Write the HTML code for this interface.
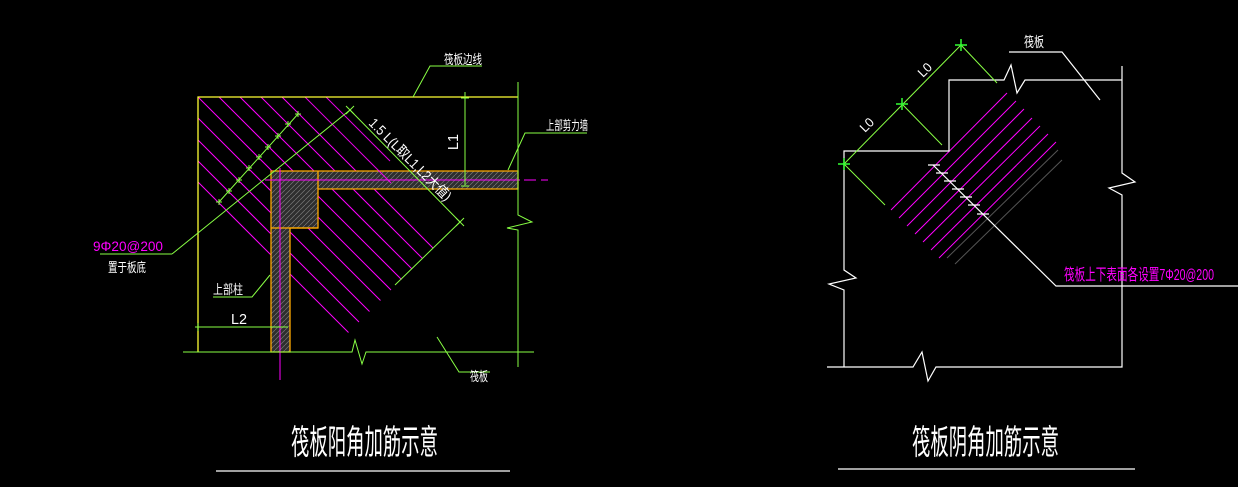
<!DOCTYPE html>
<html><head><meta charset="utf-8"><style>
html,body{margin:0;padding:0;background:#000;}
svg{display:block;}
text{font-family:"Liberation Sans","Noto Sans CJK SC",sans-serif;}
</style></head><body>
<svg width="1238" height="487" viewBox="0 0 1238 487" xmlns="http://www.w3.org/2000/svg">
<defs>
<pattern id="hat" width="5" height="5" patternUnits="userSpaceOnUse">
<rect width="5" height="5" fill="#2e2e2e"/>
<path d="M0 5L5 0" stroke="#777" stroke-width="0.7"/>
</pattern>
</defs>
<rect width="1238" height="487" fill="#000"/>

<!-- LEFT DIAGRAM -->
<g stroke="#ff00ff" stroke-width="1">
<line x1="198" y1="182" x2="348.5" y2="332.5"/>
<line x1="198" y1="161" x2="359" y2="322"/>
<line x1="198" y1="140" x2="369.5" y2="311.5"/>
<line x1="198" y1="118" x2="380.5" y2="300.5"/>
<line x1="198" y1="97" x2="391" y2="290"/>
<line x1="219" y1="97" x2="401.5" y2="279.5"/>
<line x1="240" y1="97" x2="412" y2="269"/>
<line x1="261" y1="97" x2="422.5" y2="258.5"/>
<line x1="282" y1="97" x2="433" y2="248"/>
</g>
<path d="M271 171H518V189H318V228H290V352H271Z" fill="url(#hat)" stroke="#ffaa00" stroke-width="1.3"/>
<line x1="271" y1="228" x2="318" y2="228" stroke="#ffaa00" stroke-width="1.3"/>
<line x1="318" y1="171" x2="318" y2="189" stroke="#ffaa00" stroke-width="1.3"/>
<g stroke="#ff00ff" stroke-width="1" opacity="0.9">
<line x1="305" y1="97" x2="391" y2="183"/>
<line x1="326" y1="97" x2="390" y2="161"/>
</g>
<line x1="265" y1="180" x2="520" y2="180" stroke="#ff00ff" stroke-width="1"/>
<line x1="524" y1="180" x2="536" y2="180" stroke="#ff00ff" stroke-width="1"/>
<line x1="541" y1="180" x2="548" y2="180" stroke="#ff00ff" stroke-width="1"/>
<line x1="280" y1="168" x2="280" y2="380" stroke="#ff00ff" stroke-width="1"/>
<path d="M198 352V97H518" fill="none" stroke="#ffff33" stroke-width="1.3"/>
<g stroke="#88ff44" stroke-width="1" fill="none">
<path d="M183 352H352L355 340L362 364L366 352H534"/>
<path d="M518 82V215L532 222L507 228L518 230V367"/>
<line x1="172" y1="254" x2="350" y2="110"/>
<line x1="350" y1="110" x2="460" y2="222"/>
<line x1="460" y1="222" x2="395" y2="285"/>
<line x1="465" y1="92" x2="465" y2="185"/>
<line x1="195" y1="327" x2="288" y2="327"/>
<path d="M413 97L430 66H482"/>
<path d="M508 170L525 133H587"/>
<path d="M270 275L252 297H213"/>
<path d="M437 337L459 372H490"/>
<path d="M172 254H100"/>
<path d="M346 106L354 114M346 114L354 106"/>
<path d="M456 218L464 226M456 226L464 218"/>
<path d="M461 98H469M461 186H469"/>
<path d="M198 323V331"/>
<path d="M219 202L298 114"/>
<path d="M216 202h6M219 199v6M226 191h6M229 188v6M236 180h6M239 177v6M246 168h6M249 165v6M256 157h6M259 154v6M265 147h6M268 144v6M275 136h6M278 133v6M285 124h6M288 121v6M295 114h6M298 111v6"/>
</g>
<text x="444" y="64" fill="#fff" font-size="13" textLength="38" lengthAdjust="spacingAndGlyphs">筏板边线</text>
<text x="546" y="130" fill="#fff" font-size="13" textLength="42" lengthAdjust="spacingAndGlyphs">上部剪力墙</text>
<text x="213" y="294" fill="#fff" font-size="13" textLength="30" lengthAdjust="spacingAndGlyphs">上部柱</text>
<text x="470" y="381" fill="#fff" font-size="13" textLength="18" lengthAdjust="spacingAndGlyphs">筏板</text>
<text x="93" y="251" fill="#ff00ff" font-size="14" textLength="70" lengthAdjust="spacingAndGlyphs">9Φ20@200</text>
<text x="108" y="272" fill="#fff" font-size="13" textLength="38" lengthAdjust="spacingAndGlyphs">置于板底</text>
<text x="231" y="324" fill="#fff" font-size="15" textLength="16" lengthAdjust="spacingAndGlyphs">L2</text>
<text transform="translate(458,150) rotate(-90)" fill="#fff" font-size="15" textLength="16" lengthAdjust="spacingAndGlyphs">L1</text>
<text transform="translate(368,124) rotate(45)" fill="#fff" font-size="14" textLength="110" lengthAdjust="spacingAndGlyphs">1.5 L(L取L1,L2大值)</text>
<text x="291" y="454" fill="#fff" font-size="34" textLength="147" lengthAdjust="spacingAndGlyphs">筏板阳角加筋示意</text>
<line x1="216" y1="471" x2="510" y2="471" stroke="#fff" stroke-width="1.2"/>

<!-- RIGHT DIAGRAM -->
<g stroke="#ff00ff" stroke-width="1">
<line x1="891" y1="210" x2="1007" y2="93"/>
<line x1="899" y1="218" x2="1016" y2="101"/>
<line x1="907" y1="226" x2="1024" y2="109"/>
<line x1="915" y1="234" x2="1032" y2="118"/>
<line x1="923" y1="242" x2="1040" y2="126"/>
<line x1="931" y1="250" x2="1048" y2="134"/>
<line x1="939" y1="258" x2="1056" y2="142"/>
</g>
<g stroke="#555" stroke-width="1">
<line x1="947" y1="258" x2="1058" y2="150"/>
<line x1="955" y1="264" x2="1062" y2="160"/>
</g>
<g stroke="#fff" stroke-width="1.2" fill="none">
<path d="M827 367H913L922 352L928 381L936 367H1122V195L1109 188L1135 182L1122 173V66"/>
<path d="M1122 80H1025L1017 93L1011 65L1004 80H949V151H844V270L856 278L829 284L844 290V367"/>
<path d="M1009 52H1062L1100 100"/>
<path d="M933 165L1056 286H1238"/>
<path d="M928 165h12M936 173h12M944 181h12M952 189h12M960 197h12M968 205h12M977 214h12"/>
</g>
<g stroke="#88ff44" stroke-width="1" fill="none">
<line x1="844" y1="164" x2="961" y2="45"/>
<line x1="961" y1="45" x2="997" y2="83"/>
<line x1="902" y1="104" x2="942" y2="145"/>
<line x1="844" y1="164" x2="885" y2="205"/>
<path d="M961 39V51M955 45H967M902 98V110M896 104H908M844 158V170M838 164H850" stroke="#33ff33" stroke-width="1.5"/>
</g>
<text transform="translate(923,78) rotate(-45)" fill="#fff" font-size="13" textLength="14" lengthAdjust="spacingAndGlyphs">L0</text>
<text transform="translate(865,133) rotate(-45)" fill="#fff" font-size="13" textLength="14" lengthAdjust="spacingAndGlyphs">L0</text>
<text x="1024" y="47" fill="#fff" font-size="14" textLength="20" lengthAdjust="spacingAndGlyphs">筏板</text>
<text x="1064" y="280" fill="#ff00ff" font-size="16" textLength="150" lengthAdjust="spacingAndGlyphs">筏板上下表面各设置7Φ20@200</text>
<text x="912" y="454" fill="#fff" font-size="34" textLength="147" lengthAdjust="spacingAndGlyphs">筏板阴角加筋示意</text>
<line x1="838" y1="469" x2="1135" y2="469" stroke="#fff" stroke-width="1.2"/>
</svg>
</body></html>
